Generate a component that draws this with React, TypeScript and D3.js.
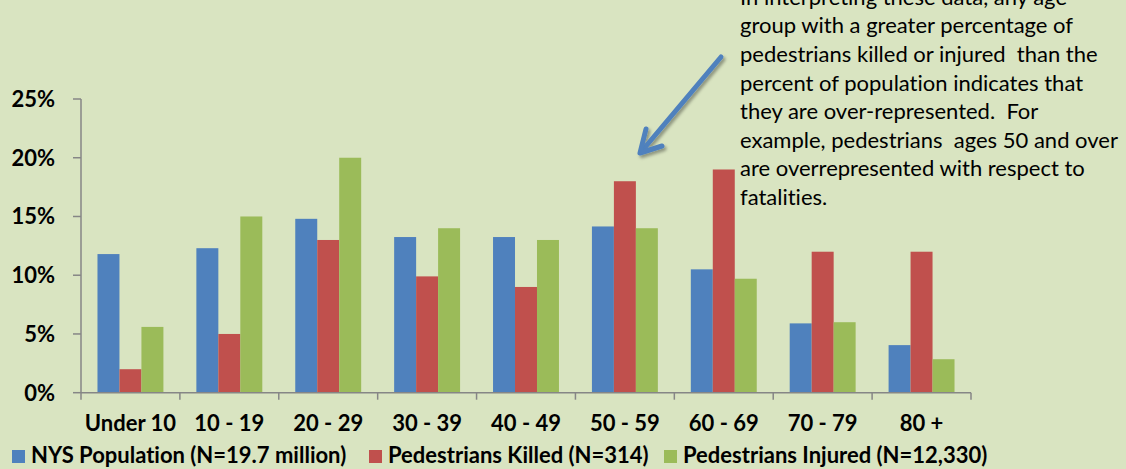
import React from "react"
import * as d3 from "d3"

const ageGroups = ["Under 10", "10 - 19", "20 - 29", "30 - 39", "40 - 49", "50 - 59", "60 - 69", "70 - 79", "80 +"]
const seriesNames = ["NYS Population (N=19.7 million)", "Pedestrians Killed (N=314)", "Pedestrians Injured (N=12,330)"]
const population = [11.8, 12.3, 14.8, 13.25, 13.25, 14.15, 10.5, 5.9, 4.05]
const killed = [2, 5, 13, 9.9, 9, 18, 19, 12, 12]
const injured = [5.6, 15, 20, 14, 13, 14, 9.7, 6, 2.85]
const yTicks = [0, 5, 10, 15, 20, 25]
const note = [
  "In interpreting these data, any age",
  "group with a greater percentage of",
  "pedestrians killed or injured  than the",
  "percent of population indicates that",
  "they are over-represented.  For",
  "example, pedestrians  ages 50 and over",
  "are overrepresented with respect to",
  "fatalities."
]

const colors = ["#4F81BD", "#C0504D", "#9BBB59"]
const font = "Lato, 'Open Sans', sans-serif"

export default function App() {
  const width = 1126
  const height = 469
  const values = [population, killed, injured]

  const x = d3.scaleBand().domain(ageGroups).range([81, 971]).paddingInner(1 / 3).paddingOuter(1 / 6)
  const xs = d3.scaleBand().domain(seriesNames).range([0, x.bandwidth()])
  const y = d3.scaleLinear().domain([0, 25]).range([392.7, 99])
  const step = x.step()

  // legend positions
  const legendX = [12, 369, 664]

  return (
    <svg width={width} height={height} style={{ position: "absolute", left: 0, top: 0, background: "#D9E4C1", fontVariantLigatures: "none" }}>
      <defs>
        <filter id="shadow" x="-20%" y="-20%" width="150%" height="150%">
          <feDropShadow dx="2" dy="2.5" stdDeviation="1.5" floodColor="#000" floodOpacity="0.35" />
        </filter>
      </defs>
      <rect width={width} height={height} fill="#D9E4C1" />

      {/* bars */}
      {ageGroups.map((g, i) => (
        <g key={g} transform={`translate(${x(g)},0)`}>
          {seriesNames.map((s, j) => (
            <rect key={s} x={xs(s)} y={y(values[j][i])} width={xs.bandwidth()} height={y(0) - y(values[j][i])} fill={colors[j]} />
          ))}
        </g>
      ))}

      {/* y axis */}
      <line x1={81} x2={81} y1={y(25)} y2={y(0)} stroke="#868686" strokeWidth={1.5} />
      {yTicks.map(t => (
        <g key={t}>
          <line x1={73} x2={81} y1={y(t)} y2={y(t)} stroke="#868686" strokeWidth={1.5} />
          <text x={55} y={y(t)} dy="0.36em" textAnchor="end" fontFamily={font} fontWeight="bold" fontSize={22} fill="#000">{t}%</text>
        </g>
      ))}

      {/* x axis */}
      <line x1={81} x2={971} y1={y(0)} y2={y(0)} stroke="#868686" strokeWidth={1.5} />
      {d3.range(ageGroups.length + 1).map(k => (
        <line key={k} x1={81 + k * step} x2={81 + k * step} y1={y(0)} y2={y(0) + 7} stroke="#868686" strokeWidth={1.5} />
      ))}
      {ageGroups.map(g => (
        <text key={g} x={(x(g) as number) + x.bandwidth() / 2} y={431} textAnchor="middle" fontFamily={font} fontWeight="bold" fontSize={22} fill="#000">{g}</text>
      ))}

      {/* legend */}
      {seriesNames.map((s, j) => (
        <g key={s}>
          <rect x={legendX[j]} y={450} width={13} height={13} fill={colors[j]} />
          <text x={legendX[j] + 19} y={463} fontFamily={font} fontWeight="bold" fontSize={22} fill="#000">{s}</text>
        </g>
      ))}

      {/* annotation */}
      {note.map((line, i) => (
        <text key={i} x={740} y={4.7 + i * 28.6} fontFamily={font} fontSize={22} fill="#000" style={{ whiteSpace: "pre" }}>{line}</text>
      ))}

      {/* arrow */}
      <g filter="url(#shadow)" stroke="#4F81BD" strokeWidth={5} strokeLinecap="round" strokeLinejoin="round" fill="none">
        <line x1={721} y1={57} x2={641} y2={152} />
        <polyline points="646,129 640,153 662,146" />
      </g>
    </svg>
  )
}
